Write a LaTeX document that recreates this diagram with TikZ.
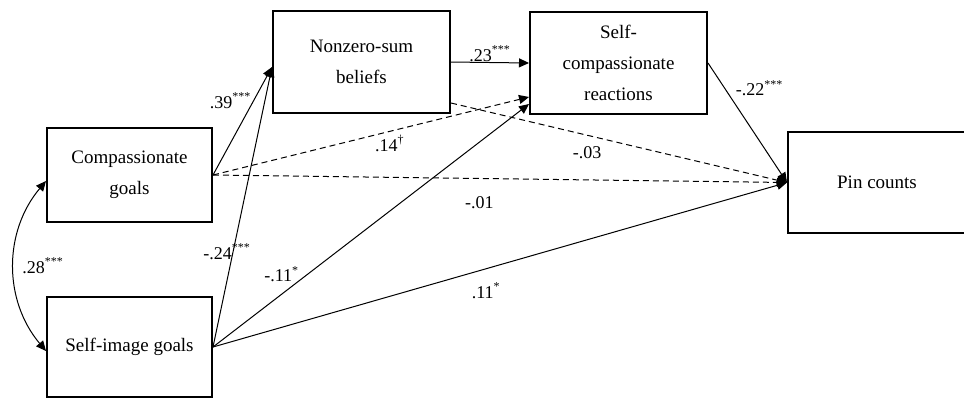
\documentclass[tikz,border=0pt]{standalone}
\usepackage{fontspec}
\setmainfont{Liberation Serif}
\usetikzlibrary{arrows.meta,calc}

\begin{document}
\begin{tikzpicture}[
                    x=0.5pt, y=-0.5pt,
                    main/.style = {draw=black, rectangle, line width=1pt, align=center, inner sep=1pt, font=\fontsize{9.5}{15.5}\selectfont},
                    arr/.style = {line width=0.5pt, -{Triangle[length=5pt,width=4.5pt]}},
                    arrdash/.style = {arr, dash pattern=on 3pt off 2pt},
                    lab/.style = {inner sep=0pt, font=\fontsize{9}{11}\selectfont}
                ]
                    \useasboundingbox (0,0) rectangle (964,398);

                    \node[main, minimum width=82.5pt, minimum height=47pt] (comp) at (129.5,175) {Compassionate\\goals};
                    \node[main, minimum width=82.5pt, minimum height=50pt] (self) at (129.5,347) {Self-image goals};
                    \node[main, minimum width=88.5pt, minimum height=51pt] (nzs) at (361.5,62) {Nonzero-sum\\beliefs};
                    \node[main, minimum width=88.5pt, minimum height=51pt] (scr) at (618.5,63) {Self-\\compassionate\\reactions};
                    \node[main, minimum width=89pt, minimum height=50.5pt] (pin) at (877,182.5) {Pin counts};

                    \draw[arr] (comp.east) -- node[lab, pos=0.69, xshift=-11.5pt] {.39\textsuperscript{***}} ($(nzs.west)+(0,5)$);
                    \draw[arr] (self.east) -- node[lab, pos=0.34, xshift=-3pt] {-.24\textsuperscript{***}} ($(nzs.west)+(0,5)$);
                    \draw[arr] (nzs.east) -- node[lab, midway, yshift=4.5pt] {.23\textsuperscript{***}} (scr.west);
                    \draw[arrdash] (comp.east) -- node[lab, pos=0.56, yshift=-6pt] {.14\textsuperscript{\textdagger}} ($(scr.west)+(0,34)$);
                    \draw[arrdash] (comp.east) -- node[lab, pos=0.464, yshift=-12pt] {-.01} (pin.west);
                    \draw[arrdash] ($(nzs.east)+(0,41)$) -- node[lab, pos=0.405, yshift=-8.5pt] {-.03} (pin.west);
                    \draw[arr] (scr.east) -- node[lab, pos=0.21, xshift=17.5pt] {-.22\textsuperscript{***}} (pin.west);
                    \draw[arr] (self.east) -- node[lab, pos=0.30, xshift=-13pt] {-.11\textsuperscript{*}} ($(scr.west)+(0,41)$);
                    \draw[arr] (self.east) -- node[lab, pos=0.476, yshift=-11pt] {.11\textsuperscript{*}} (pin.west);
                    \draw[arr, {Triangle[length=5pt,width=4.5pt]}-{Triangle[length=5pt,width=4.5pt]}] ($(comp.west)+(0,6)$) to[bend right=40] node[lab, midway, xshift=14.5pt] {.28\textsuperscript{***}} ($(self.west)+(0,4)$);
                \end{tikzpicture}
\end{document}
